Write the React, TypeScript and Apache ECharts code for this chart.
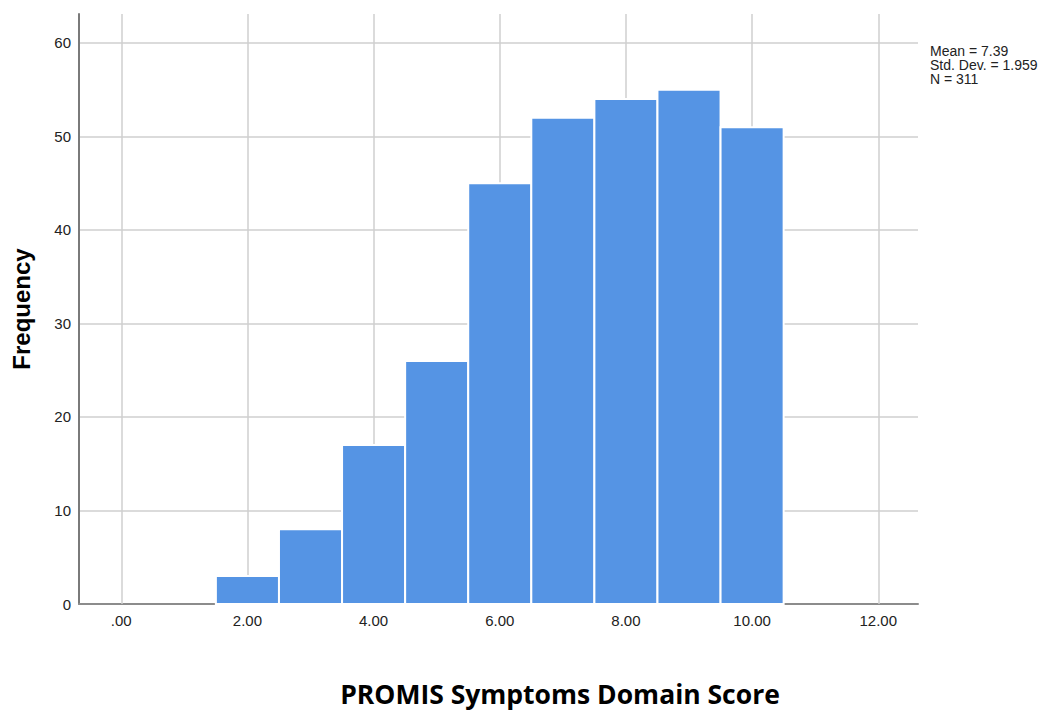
import React, { useEffect, useRef } from "react";
import * as echarts from "echarts";

const binCenters = [2, 3, 4, 5, 6, 7, 8, 9, 10];
const frequencies = [3, 8, 17, 26, 45, 52, 54, 55, 51];
const binWidth = 1;
const xTickValues = [0, 2, 4, 6, 8, 10, 12];
const xTickLabels = [".00", "2.00", "4.00", "6.00", "8.00", "10.00", "12.00"];
const statsLines = ["Mean = 7.39", "Std. Dev. = 1.959", "N = 311"];
const xTitle = "PROMIS Symptoms Domain Score";
const yTitle = "Frequency";

export default function App() {
  const ref = useRef<HTMLDivElement>(null);
  useEffect(() => {
    const chart = echarts.init(ref.current!, null, { renderer: "svg" });
    const data = binCenters.map((c, i) => [c, frequencies[i]]);
    chart.setOption({
      animation: false,
      backgroundColor: "#ffffff",
      grid: { left: 79, right: 137, top: 14, bottom: 109 },
      xAxis: {
        type: "value",
        min: -0.67,
        max: 12.63,
        axisLine: { show: true, onZero: false, lineStyle: { color: "#8c8c8c", width: 2 } },
        axisTick: { show: false },
        axisLabel: { show: false },
        splitLine: { show: false },
      },
      yAxis: {
        type: "value",
        min: 0,
        max: 63.1,
        interval: 10,
        axisLine: { show: true, onZero: false, lineStyle: { color: "#7a7a7a", width: 2 } },
        axisTick: { show: false },
        axisLabel: {
          showMaxLabel: false,
          margin: 8,
          color: "#222",
          fontFamily: "Liberation Sans",
          fontSize: 15,
        },
        splitLine: {
          show: true,
          showMaxLine: false,
          lineStyle: { color: "#cfcfcf", width: 1.5 },
        },
        name: yTitle,
        nameLocation: "middle",
        nameGap: 46,
        nameRotate: 90,
        nameTextStyle: {
          fontFamily: "Liberation Sans",
          fontWeight: "bold",
          fontSize: 24,
          color: "#000",
        },
      },
      series: [
        {
          type: "line",
          data: [],
          z: 1,
          silent: true,
          markLine: {
            silent: true,
            z: 1,
            symbol: ["none", "none"],
            lineStyle: { type: "solid", color: "#cfcfcf", width: 1.5 },
            label: {
              show: true,
              position: "start",
              distance: 9,
              formatter: "{b}",
              color: "#222",
              fontFamily: "Liberation Sans",
              fontSize: 15,
            },
            emphasis: { disabled: true },
            data: xTickValues.map((v, i) => ({ xAxis: v, name: xTickLabels[i] })),
          },
        },
        {
          type: "custom",
          data,
          renderItem: (params: any, api: any) => {
            const x = api.value(0);
            const y = api.value(1);
            const p0 = api.coord([x - binWidth / 2, y]);
            const p1 = api.coord([x + binWidth / 2, 0]);
            return {
              type: "rect",
              shape: { x: p0[0], y: p0[1], width: p1[0] - p0[0], height: p1[1] - p0[1] },
              style: { fill: "#5594e4", stroke: "#ffffff", lineWidth: 2 },
            };
          },
          encode: { x: 0, y: 1 },
          z: 10,
        },
      ],
      graphic: [
        {
          type: "text",
          left: 930,
          top: 44,
          style: {
            text: statsLines.join("\n"),
            fontFamily: "Liberation Sans",
            fontSize: 14,
            lineHeight: 14,
            fill: "#222",
          },
        },
        {
          type: "text",
          x: 560,
          y: 694,
          style: {
            text: xTitle,
            fontFamily: "Open Sans",
            fontWeight: "bold",
            fontSize: 26.5,
            fill: "#000",
            align: "center",
            verticalAlign: "middle",
          },
        },
      ],
    });
    return () => chart.dispose();
  }, []);
  return <div ref={ref} style={{ width: 1055, height: 713, position: "absolute", left: 0, top: 0 }} />;
}
